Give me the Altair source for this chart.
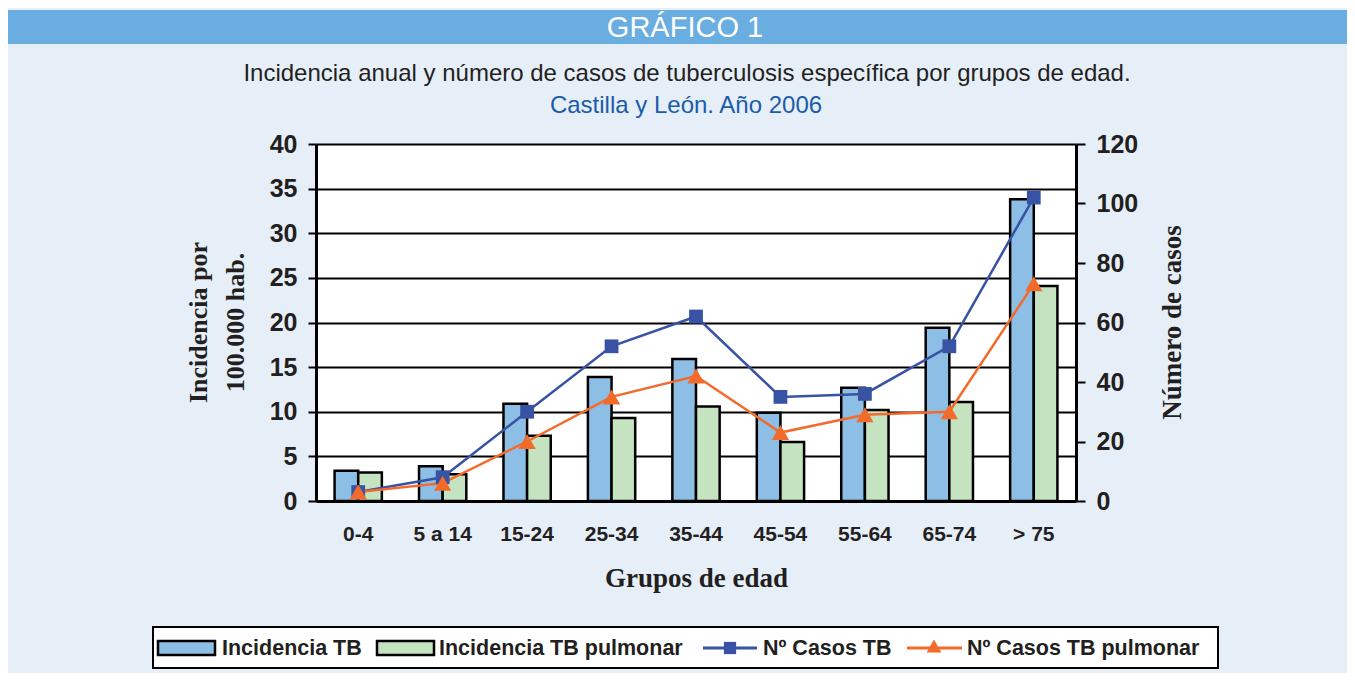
import altair as alt
import pandas as pd

# ---- data ----
grupos = ["0-4", "5 a 14", "15-24", "25-34", "35-44", "45-54", "55-64", "65-74", "> 75"]
incidencia_tb = [3.4, 3.9, 10.9, 13.9, 15.9, 9.9, 12.7, 19.4, 33.8]
incidencia_tb_pulmonar = [3.2, 3.0, 7.3, 9.3, 10.6, 6.6, 10.2, 11.1, 24.1]
casos_tb = [3, 8, 30, 52, 62, 35, 36, 52, 102]
casos_tb_pulmonar = [3, 6, 20, 35, 42, 23, 29, 30, 73]
series = ["Incidencia TB", "Incidencia TB pulmonar", "Nº Casos TB", "Nº Casos TB pulmonar"]
left_ticks = [0, 5, 10, 15, 20, 25, 30, 35, 40]
right_ticks = [0, 20, 40, 60, 80, 100, 120]

header = "GRÁFICO 1"
title = "Incidencia anual y número de casos de tuberculosis específica por grupos de edad."
subtitle = "Castilla y León. Año 2006"

# ---- styles ----
BG = "#e6eef8"
HEADER = "#6aade0"
BLUE_FILL = "#8dbee6"
GREEN_FILL = "#c5e3c1"
BLUE_LINE = "#3953a4"
ORANGE_LINE = "#f36b2b"
SANS = "Liberation Sans, Arial, Helvetica, sans-serif"
SERIF = "Liberation Serif, Times New Roman, serif"

W, H = 760, 357
PAD_L, PAD_T = 308, 136
TOTAL_W, TOTAL_H = 1339, 665

bars_df = pd.DataFrame({
    "grupo": grupos * 2,
    "serie": [series[0]] * len(grupos) + [series[1]] * len(grupos),
    "valor": incidencia_tb + incidencia_tb_pulmonar,
})
lines_df = pd.DataFrame({
    "grupo": grupos * 2,
    "serie": [series[2]] * len(grupos) + [series[3]] * len(grupos),
    "casos": casos_tb + casos_tb_pulmonar,
})

x_enc = alt.X(
    "grupo:N", sort=grupos,
    scale=alt.Scale(paddingInner=0.44, paddingOuter=0.22),
    axis=alt.Axis(
        title="Grupos de edad", labelAngle=0, ticks=False,
        domainColor="black", domainWidth=3,
        labelFont=SANS, labelFontSize=21, labelFontWeight="bold", labelColor="#231f20",
        labelPadding=22,
        titleFont=SERIF, titleFontSize=27, titleFontWeight="bold", titleColor="#231f20",
        titleBaseline="middle", titleY=77,
    ),
)

bars = alt.Chart(bars_df).mark_bar(stroke="black", strokeWidth=2.5).encode(
    x=x_enc,
    xOffset=alt.XOffset("serie:N", sort=series[:2], scale=alt.Scale(paddingInner=0, paddingOuter=0)),
    y=alt.Y(
        "valor:Q", scale=alt.Scale(domain=[0, 40], nice=False),
        axis=alt.Axis(
            orient="left", values=left_ticks, grid=True, gridColor="black", gridWidth=2, gridOpacity=1,
            domainColor="black", domainWidth=3, tickColor="black", tickWidth=2, tickSize=8,
            labelFont=SANS, labelFontSize=25, labelFontWeight="bold", labelColor="#231f20", labelPadding=11,
            title=["Incidencia por", "100.000 hab."], titleFont=SERIF, titleFontSize=26,
            titleFontWeight="bold", titleColor="#231f20", titleAngle=270, titleBaseline="middle",
            titleLineHeight=37, titleX=-118, titleY=178,
        ),
    ),
    fill=alt.Fill("serie:N", scale=alt.Scale(domain=series[:2], range=[BLUE_FILL, GREEN_FILL]), legend=None),
)

y_right = alt.Y(
    "casos:Q", scale=alt.Scale(domain=[0, 120], nice=False),
    axis=alt.Axis(
        orient="right", values=right_ticks, grid=False,
        domainColor="black", domainWidth=3, tickColor="black", tickWidth=2, tickSize=9,
        labelFont=SANS, labelFontSize=25, labelFontWeight="bold", labelColor="#231f20", labelPadding=11,
        title="Número de casos", titleFont=SERIF, titleFontSize=27, titleFontWeight="bold",
        titleColor="#231f20", titleAngle=270, titleBaseline="middle", titleX=96, titleY=178,
    ),
)

line_base = alt.Chart(lines_df).encode(x=alt.X("grupo:N", sort=grupos), y=y_right)
line_tb = line_base.transform_filter(alt.datum.serie == series[2]).mark_line(color=BLUE_LINE, strokeWidth=2.5)
pts_tb = line_base.transform_filter(alt.datum.serie == series[2]).mark_point(
    shape="square", filled=True, opacity=1, color=BLUE_LINE, size=190)
line_pu = line_base.transform_filter(alt.datum.serie == series[3]).mark_line(color=ORANGE_LINE, strokeWidth=2.5)
pts_pu = line_base.transform_filter(alt.datum.serie == series[3]).mark_point(
    shape="triangle-up", filled=True, opacity=1, color=ORANGE_LINE, size=300)

lines = alt.layer(line_tb, line_pu, pts_tb, pts_pu)
main = alt.layer(bars, lines).resolve_scale(y="independent")

# ---- decorative header, titles, legend ----
one = pd.DataFrame({"k": [0]})
deco = alt.Chart(one)

header_rect = deco.mark_rect(fill=HEADER).encode(
    x=alt.value(-PAD_L), x2=alt.value(TOTAL_W - PAD_L), y=alt.value(-134), y2=alt.value(-100))
header_txt = deco.mark_text(text=header, font=SANS, fontSize=29, color="white",
                            align="center", baseline="middle").encode(x=alt.value(369), y=alt.value(-116))
title_txt = deco.mark_text(text=title, font=SANS, fontSize=24, color="#231f20",
                           align="center", baseline="middle").encode(x=alt.value(371), y=alt.value(-70))
subtitle_txt = deco.mark_text(text=subtitle, font=SANS, fontSize=24, color="#1b5ca8",
                              align="center", baseline="middle").encode(x=alt.value(370), y=alt.value(-38))

legend_box = deco.mark_rect(fill="white", stroke="black", strokeWidth=2).encode(
    x=alt.value(-163), x2=alt.value(902), y=alt.value(483), y2=alt.value(524))
sw_blue = deco.mark_rect(fill=BLUE_FILL, stroke="black", strokeWidth=2.5).encode(
    x=alt.value(-158), x2=alt.value(-101), y=alt.value(497), y2=alt.value(511))
sw_green = deco.mark_rect(fill=GREEN_FILL, stroke="black", strokeWidth=2.5).encode(
    x=alt.value(61), x2=alt.value(118), y=alt.value(497), y2=alt.value(511))
lg_line_b = deco.mark_rule(color=BLUE_LINE, strokeWidth=3).encode(
    x=alt.value(387), x2=alt.value(441), y=alt.value(504))
lg_pt_b = deco.mark_point(shape="square", filled=True, opacity=1, color=BLUE_LINE, size=150).encode(
    x=alt.value(414), y=alt.value(504))
lg_line_o = deco.mark_rule(color=ORANGE_LINE, strokeWidth=3).encode(
    x=alt.value(591), x2=alt.value(646), y=alt.value(504))
lg_pt_o = deco.mark_point(shape="triangle-up", filled=True, opacity=1, color=ORANGE_LINE, size=220).encode(
    x=alt.value(618), y=alt.value(502))

def lg_text(label, xpos):
    return deco.mark_text(text=label, font=SANS, fontSize=21.5, fontWeight="bold", color="#231f20",
                          align="left", baseline="middle").encode(x=alt.value(xpos), y=alt.value(505))

chart = alt.layer(
    header_rect, header_txt, title_txt, subtitle_txt,
    main,
    legend_box, sw_blue, sw_green, lg_line_b, lg_pt_b, lg_line_o, lg_pt_o,
    lg_text(series[0], -94), lg_text(series[1], 123), lg_text(series[2], 447), lg_text(series[3], 651),
).properties(
    width=W, height=H,
    autosize=alt.AutoSizeParams(type="none"),
    padding={"left": PAD_L, "top": PAD_T, "right": TOTAL_W - PAD_L - W, "bottom": TOTAL_H - PAD_T - H},
    background=BG,
).configure_view(fill="white", stroke="transparent")

chart.save("out.html", embed_options={"renderer": "svg", "actions": False})
